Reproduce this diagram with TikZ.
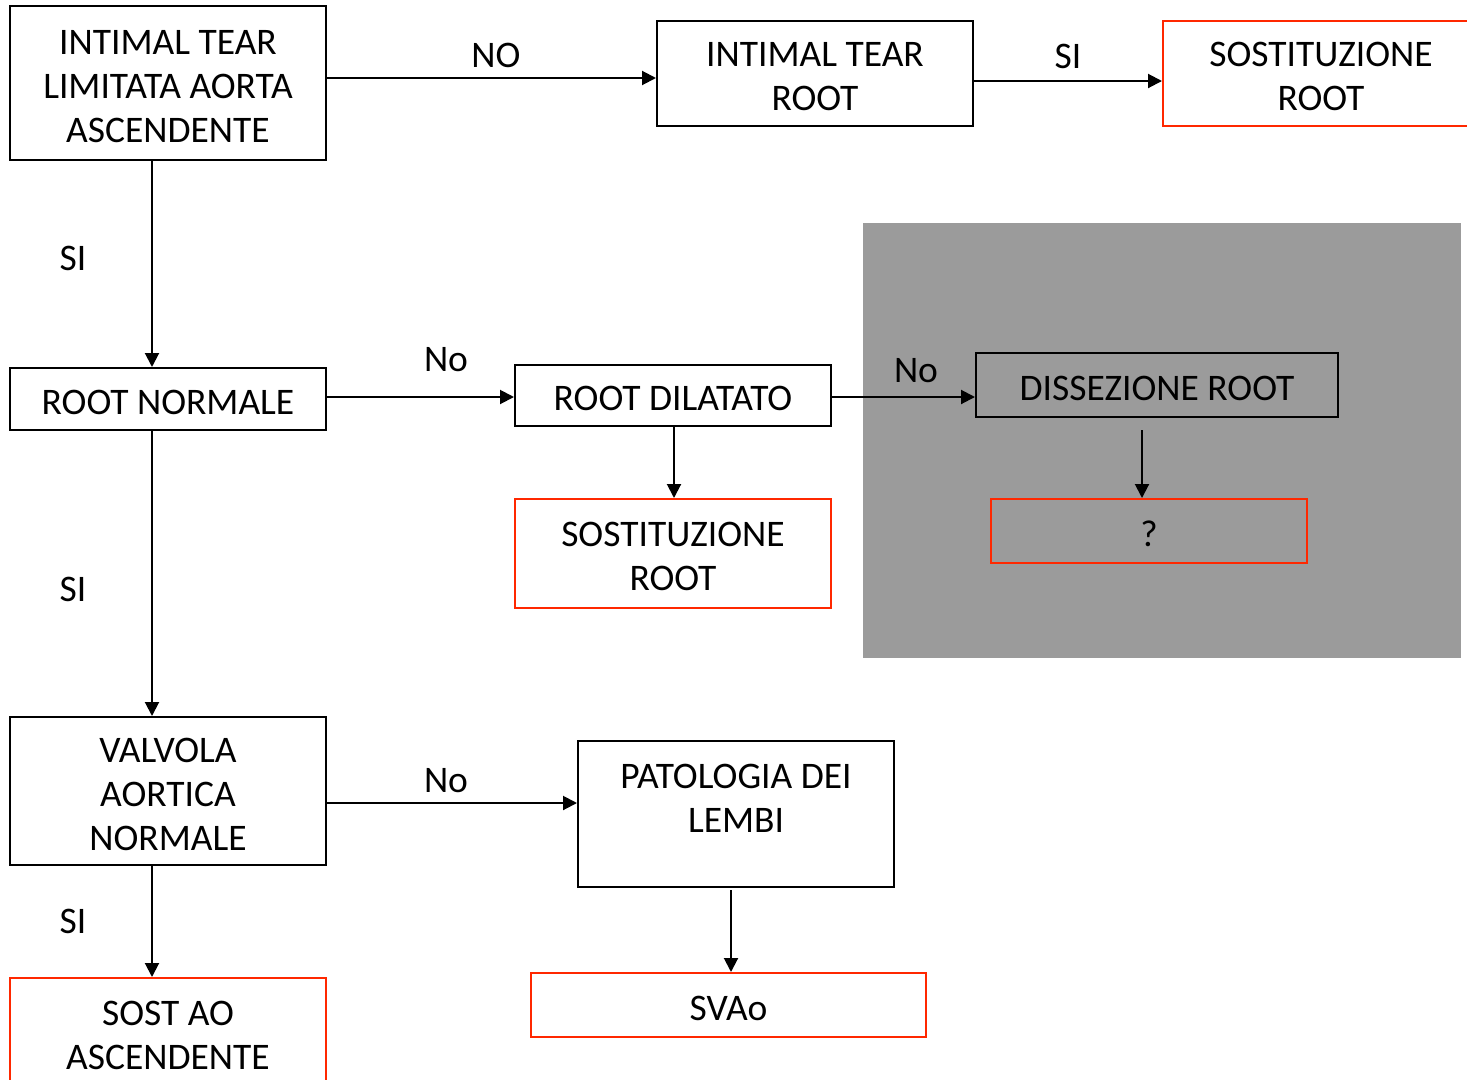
\documentclass[tikz,border=0pt]{standalone}
\usepackage{fontspec}
\setmainfont{Carlito}
\usetikzlibrary{arrows.meta,calc}
\definecolor{boxred}{RGB}{255,40,0}
\definecolor{panelgray}{RGB}{155,155,155}
% invisible strut that lets the text sit a little below the middle of its box
\newcommand{\dropstrut}{\rule{0pt}{31pt}}
\begin{document}
\begin{tikzpicture}[x=1pt,y=-1pt,
  every node/.style={font=\fontsize{37.5}{44}\selectfont},
  box/.style={draw=black, line width=2pt, inner sep=0pt, align=center},
  redbox/.style={box, draw=boxred},
  flow/.style={line width=2pt, -{Triangle[length=14pt,width=14pt]}},
  lbl/.style={inner sep=0pt, align=center}]
\useasboundingbox (0,0) rectangle (1467,1079);

% shaded panel behind the dissection branch
\fill[panelgray] (863,223) rectangle (1461,658);

% boxes
\node[box, minimum width=316, minimum height=154] (a1) at (168,83) {\dropstrut INTIMAL TEAR\\LIMITATA AORTA\\ASCENDENTE};
\node[box, minimum width=316, minimum height=105] (a2) at (815,73.5) {\dropstrut INTIMAL TEAR\\ROOT};
\node[redbox, minimum width=316, minimum height=105] (a3) at (1321,73.5) {\dropstrut SOSTITUZIONE\\ROOT};

\node[box, minimum width=316, minimum height=62] (b1) at (168,399) {\dropstrut ROOT NORMALE};
\node[box, minimum width=316, minimum height=61] (b2) at (673,395.5) {\dropstrut ROOT DILATATO};
\node[redbox, minimum width=316, minimum height=109] (b3) at (673,553.5) {\dropstrut SOSTITUZIONE\\ROOT};
\node[box, minimum width=362, minimum height=64] (b4) at (1157,385) {\dropstrut DISSEZIONE ROOT};
\node[redbox, minimum width=316, minimum height=64] (b5) at (1149,531) {\dropstrut ?};

\node[box, minimum width=316, minimum height=148] (c1) at (168,791) {\dropstrut VALVOLA\\AORTICA\\NORMALE};
\node[box, minimum width=316, minimum height=146] (c2) at (736,814) {};
\node[lbl] (c2t) at (736,798) {PATOLOGIA DEI\\LEMBI};
\node[redbox, minimum width=395, minimum height=64] (c3) at (728.5,1005) {\dropstrut SVAo};
\node[redbox, minimum width=316, minimum height=108] (d1) at (168,1032) {\dropstrut SOST AO\\ASCENDENTE};

% connectors
\draw[flow] (a1.east |- 0,78) -- (a2.west |- 0,78);
\draw[flow] (a2.east |- 0,81) -- (a3.west |- 0,81);
\draw[flow] (a1.south -| 152,0) -- (b1.north -| 152,0);
\draw[flow] (b1.east |- 0,397) -- (b2.west |- 0,397);
\draw[flow] (b2.east |- 0,397) -- (b4.west |- 0,397);
\draw[flow] (b2.south -| 674,0) -- (b3.north -| 674,0);
\draw[flow] ($(b4.south -| 1142,0)+(0,12)$) -- (b5.north -| 1142,0);
\draw[flow] (b1.south -| 152,0) -- (c1.north -| 152,0);
\draw[flow] (c1.east |- 0,803) -- (c2.west |- 0,803);
\draw[flow] ($(c2.south -| 731,0)+(0,2)$) -- (c3.north -| 731,0);
\draw[flow] (c1.south -| 152,0) -- (d1.north -| 152,0);

% branch labels
\node[lbl] (l1) at (496,55) {NO};
\node[lbl] (l2) at (1068,56) {SI};
\node[lbl] (l3) at (73,258) {SI};
\node[lbl] (l4) at (446,360) {No};
\node[lbl] (l5) at (916,371) {No};
\node[lbl] (l6) at (73,589) {SI};
\node[lbl] (l7) at (446,781) {No};
\node[lbl] (l8) at (73,921) {SI};
\end{tikzpicture}
\end{document}
